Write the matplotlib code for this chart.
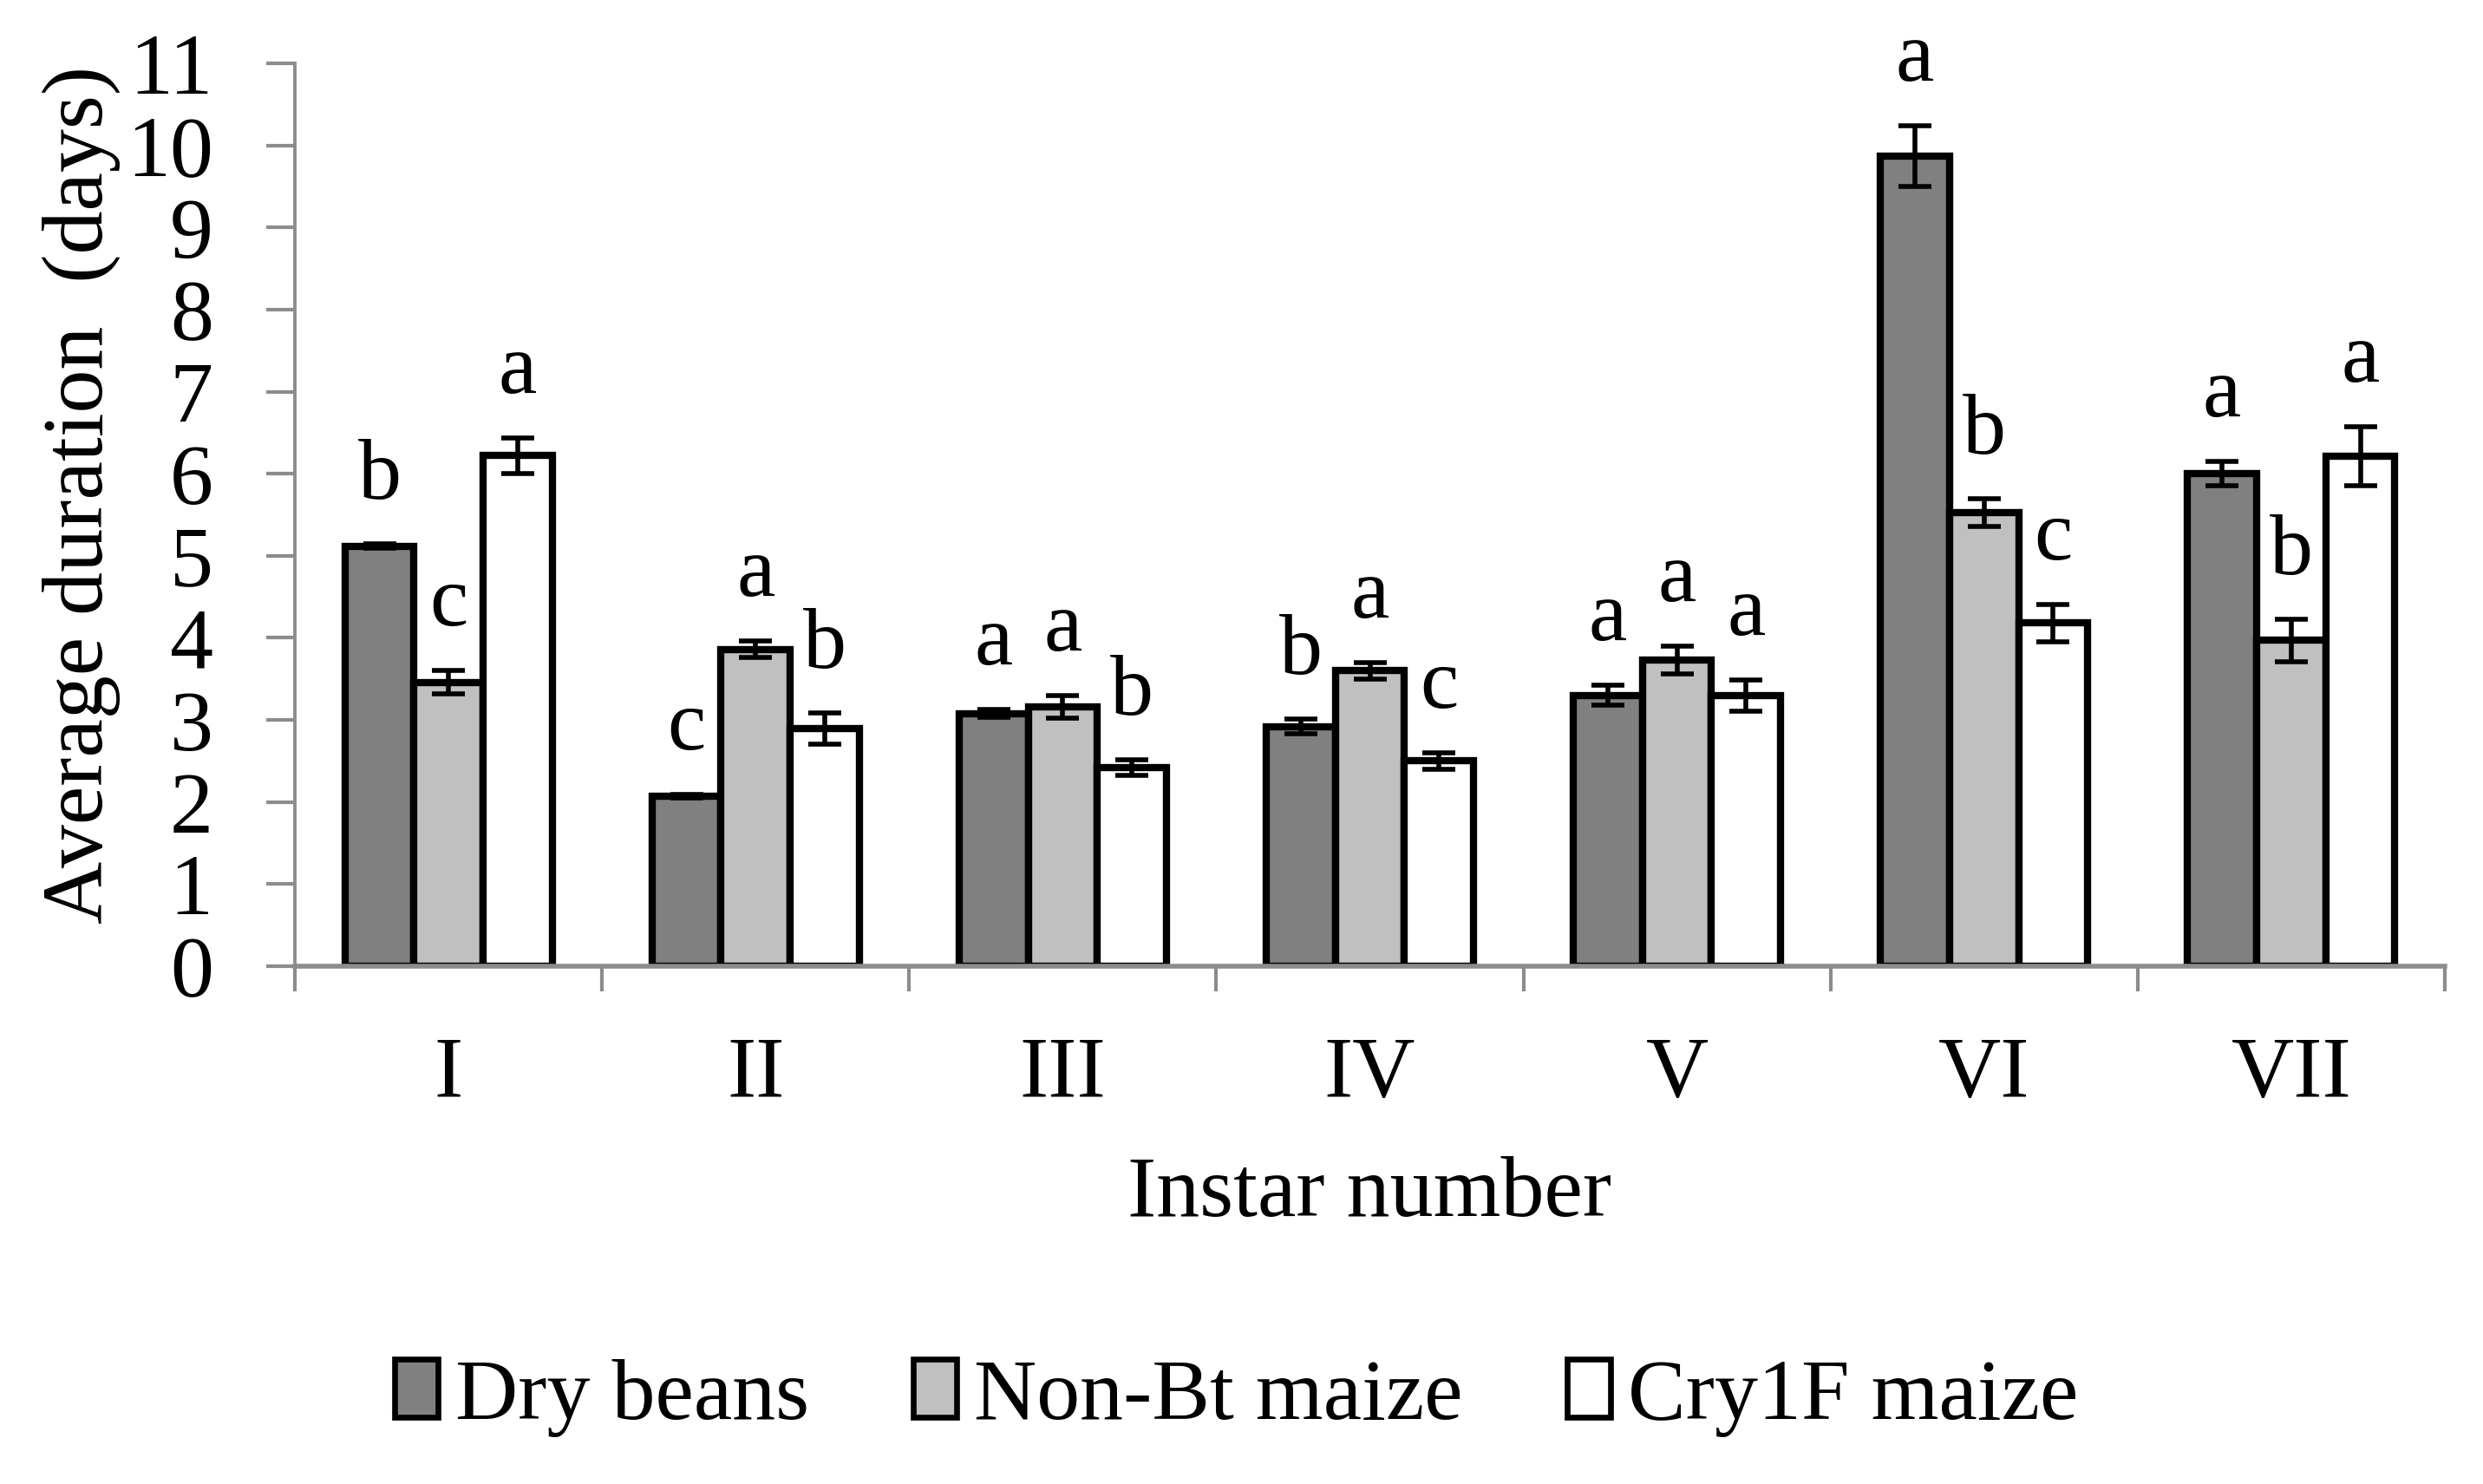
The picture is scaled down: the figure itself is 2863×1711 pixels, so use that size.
import numpy as np
import matplotlib.pyplot as plt
from matplotlib.patches import Patch

instars = ["I", "II", "III", "IV", "V", "VI", "VII"]
series = ["Dry beans", "Non-Bt maize", "Cry1F maize"]

dry_beans = [5.12, 2.07, 3.08, 2.92, 3.30, 9.87, 6.00]
non_bt = [3.46, 3.86, 3.16, 3.60, 3.73, 5.53, 3.97]
cry1f = [6.22, 2.90, 2.42, 2.50, 3.30, 4.18, 6.21]

dry_err = [0.03, 0.02, 0.05, 0.09, 0.12, 0.37, 0.15]
non_bt_err = [0.14, 0.10, 0.14, 0.10, 0.17, 0.17, 0.26]
cry1f_err = [0.22, 0.19, 0.10, 0.10, 0.19, 0.23, 0.36]

dry_letters = ["b", "c", "a", "b", "a", "a", "a"]
non_bt_letters = ["c", "a", "a", "a", "a", "b", "b"]
cry1f_letters = ["a", "b", "b", "c", "a", "c", "a"]

plt.rcParams["font.family"] = ["Liberation Serif", "DejaVu Serif"]
plt.rcParams["font.size"] = 36

fig = plt.figure(figsize=(14.315, 8.555), dpi=200)
ax = fig.add_axes([0.1188, 0.3489, 0.9846 - 0.1188, 0.9573 - 0.3489])

x = np.arange(len(instars))
w = 0.225
colors = ["#808080", "#c0c0c0", "#ffffff"]
all_vals = [dry_beans, non_bt, cry1f]
all_err = [dry_err, non_bt_err, cry1f_err]
all_letters = [dry_letters, non_bt_letters, cry1f_letters]

for i in range(3):
    pos = x + (i - 1) * w
    ax.bar(pos, all_vals[i], w, color=colors[i], edgecolor="black", linewidth=3.0)
    ax.errorbar(pos, all_vals[i], yerr=all_err[i], fmt="none", ecolor="black",
                elinewidth=2.0, capsize=7, capthick=2.0)
    for p, v, e, t in zip(pos, all_vals[i], all_err[i], all_letters[i]):
        ax.text(p, v + e + 0.55, t, ha="center", va="baseline", fontsize=36)

ax.set_xlim(-0.5, len(instars) - 0.5)
ax.set_ylim(0, 11)
ax.set_yticks(range(0, 12))

ax.set_xticks(np.arange(-0.5, len(instars)), labels=[])
ax.set_xticks(x, labels=instars, minor=True)
ax.tick_params(axis="x", which="major", length=10.5, width=1.5, color="#8c8c8c", direction="out")
ax.tick_params(axis="x", which="minor", length=0, pad=29)
ax.tick_params(axis="y", length=12, width=1.5, color="#8c8c8c", pad=22)

for s in ["top", "right"]:
    ax.spines[s].set_visible(False)
ax.spines["left"].set_color("#8c8c8c")
ax.spines["left"].set_linewidth(1.4)
ax.spines["bottom"].set_color("#8c8c8c")
ax.spines["bottom"].set_linewidth(2.0)

ax.set_ylabel("Average duration  (days)")
ax.yaxis.set_label_coords(-0.081, 0.522)
ax.set_xlabel("Instar number")
ax.xaxis.set_label_coords(0.5, -0.21)

handles = [Patch(facecolor=c, edgecolor="black", linewidth=2.4) for c in colors]
fig.legend(handles, series, loc="center", bbox_to_anchor=(0.498, 0.058), ncol=3,
           frameon=False, handlelength=0.5, handleheight=0.65, handletextpad=0.2,
           columnspacing=1.2, fontsize=36)

fig.savefig("out.png", dpi=200)
